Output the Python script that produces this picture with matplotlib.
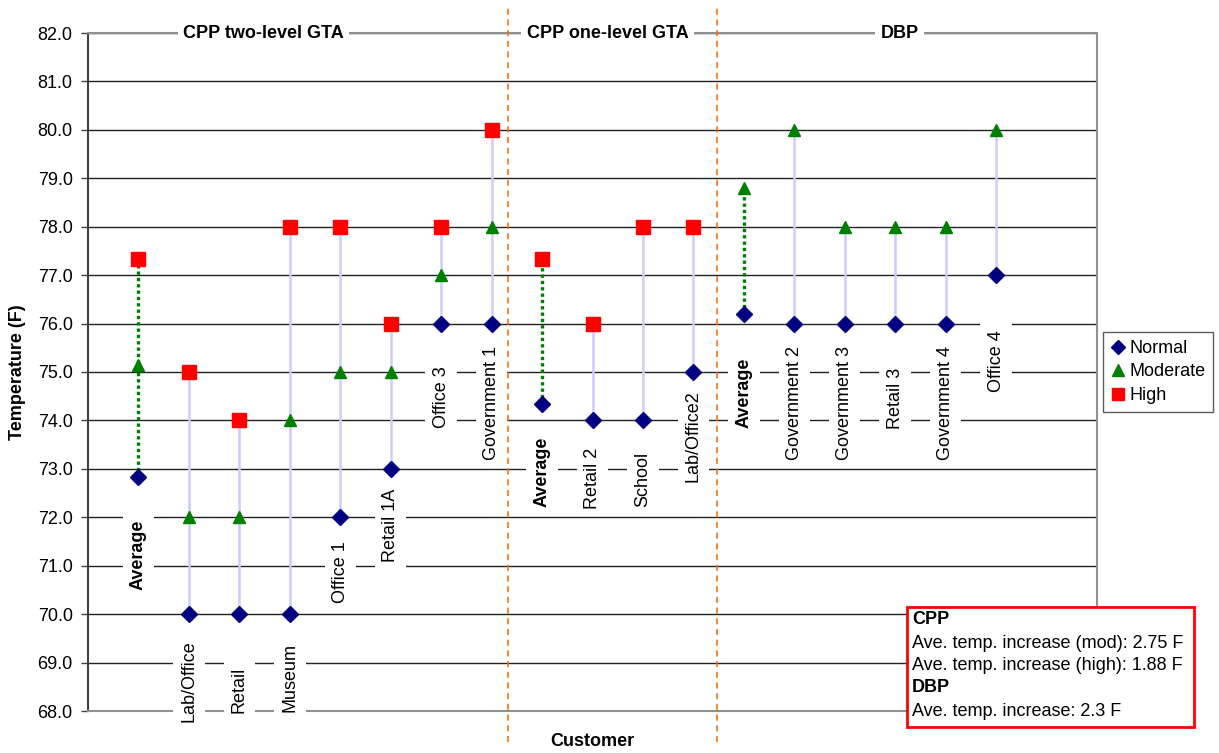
import matplotlib
matplotlib.use("Agg")
import matplotlib.pyplot as plt
from matplotlib.patches import Rectangle
import numpy as np

plt.rcParams['font.family'] = ['Liberation Sans', 'DejaVu Sans']

# data
customers = ['Average', 'Lab/Office', 'Retail', 'Museum', 'Office 1', 'Retail 1A',
             'Office 3', 'Government 1',
             'Average', 'Retail 2', 'School', 'Lab/Office2',
             'Average', 'Government 2', 'Government 3', 'Retail 3', 'Government 4', 'Office 4']
normal = [72.83, 70, 70, 70, 72, 73, 76, 76,
          74.33, 74, 74, 75,
          76.2, 76, 76, 76, 76, 77]
moderate = [75.15, 72, 72, 74, 75, 75, 77, 78,
            np.nan, np.nan, np.nan, np.nan,
            78.8, 80, 78, 78, 78, 80]
high = [77.33, 75, 74, 78, 78, 76, 78, 80,
        77.33, 76, 78, 78,
        np.nan, np.nan, np.nan, np.nan, np.nan, np.nan]
average_idx = [0, 8, 12]
# where the rotated customer names sit (centre, in F)
label_y = [71.22, 68.62, 68.44, 68.69, 70.87, 71.84, 74.48, 74.37,
           72.94, 72.81, 72.78, 73.68,
           74.56, 74.37, 74.37, 74.45, 74.37, 75.23]

sections = ['CPP two-level GTA', 'CPP one-level GTA', 'DBP']
section_x = [3.48, 10.30, 16.09]
section_breaks = [8.33, 12.47]

note_lines = [('CPP', 'bold'),
              ('Ave. temp. increase (mod): 2.75 F', 'normal'),
              ('Ave. temp. increase (high): 1.88 F', 'normal'),
              ('DBP', 'bold'),
              ('Ave. temp. increase: 2.3 F', 'normal')]

W, H = 1219, 753
fig = plt.figure(figsize=(W / 100, H / 100), dpi=100)
ax = fig.add_axes([88 / W, 1 - 711 / H, 1009 / W, 678 / H])

x = np.arange(1, len(customers) + 1)
fs = 13

# connectors
for i, xi in enumerate(x):
    top = np.nanmax([moderate[i], high[i]])
    if i in average_idx:
        ax.plot([xi, xi], [normal[i], top], color='#008000', lw=2.4,
                dashes=(1, 0.9), zorder=3.5)
    else:
        ax.plot([xi, xi], [normal[i], top], color='#ccccff', lw=1.8, zorder=3.5)

ax.plot(x, normal, 'D', ls='none', color='#000080', ms=8.2, label='Normal', zorder=4)
ax.plot(x, moderate, '^', ls='none', color='#008000', ms=9.2, label='Moderate', zorder=4)
ax.plot(x, high, 's', ls='none', color='#ff0000', ms=10, label='High', zorder=4)

# rotated customer names
for i, xi in enumerate(x):
    ax.text(xi, label_y[i], customers[i], rotation=90, ha='center', va='center',
            fontsize=fs, fontweight='bold' if i in average_idx else 'normal',
            bbox=dict(boxstyle='square,pad=0.4', fc='white', ec='none'),
            zorder=3, clip_on=False)

# section titles on the top border
for name, sx in zip(sections, section_x):
    ax.text(sx, 82, name, ha='center', va='center', fontsize=fs, fontweight='bold',
            bbox=dict(boxstyle='square,pad=0.3', fc='white', ec='none'),
            zorder=3, clip_on=False)

for b in section_breaks:
    ax.axvline(b, ymin=-0.046, ymax=1.041, color='#ff6600', lw=1.1,
               dashes=(4, 3), clip_on=False, zorder=2.6)

ax.set_xlim(0, 20)
ax.set_ylim(68, 82)
ax.set_yticks(np.arange(68, 82.5, 1))
ax.set_yticklabels(['%.1f' % v for v in np.arange(68, 82.5, 1)], fontsize=fs)
ax.set_xticks([])
ax.tick_params(axis='y', direction='out', length=5, width=1, color='#404040', pad=6)
ax.yaxis.grid(True, color='#222222', lw=1)
ax.set_axisbelow(True)
ax.spines['left'].set_color('#404040')
ax.spines['left'].set_linewidth(1.5)
for s in ['top', 'right', 'bottom']:
    ax.spines[s].set_color('#909090')
    ax.spines[s].set_linewidth(1.5)

fig.text(18 / W, 1 - 372 / H, 'Temperature (F)', rotation=90, ha='center', va='center',
         fontsize=fs, fontweight='bold')
fig.text(592 / W, 1 - 741 / H, 'Customer', ha='center', va='center',
         fontsize=fs, fontweight='bold')

leg = ax.legend(loc='center left', bbox_to_anchor=(1103 / W, 1 - 372 / H),
                bbox_transform=fig.transFigure, fontsize=fs, frameon=True,
                fancybox=False, handlelength=0.8, handletextpad=0.2,
                borderpad=0.45, labelspacing=0.35, borderaxespad=0, markerscale=0.9)
leg.get_frame().set_edgecolor('#333333')
leg.get_frame().set_linewidth(1)

# note box
fig.add_artist(Rectangle((907 / W, 1 - 727 / H), 287 / W, 120 / H,
                         transform=fig.transFigure, fc='white', ec='#ff0000',
                         lw=2, zorder=5))
line_y = [619, 643, 666, 688, 712]
for (txt, wt), ly in zip(note_lines, line_y):
    fig.text(912 / W, 1 - ly / H, txt, ha='left', va='center', fontsize=fs,
             fontweight=wt, zorder=6)

fig.savefig('out.png', dpi=100)
